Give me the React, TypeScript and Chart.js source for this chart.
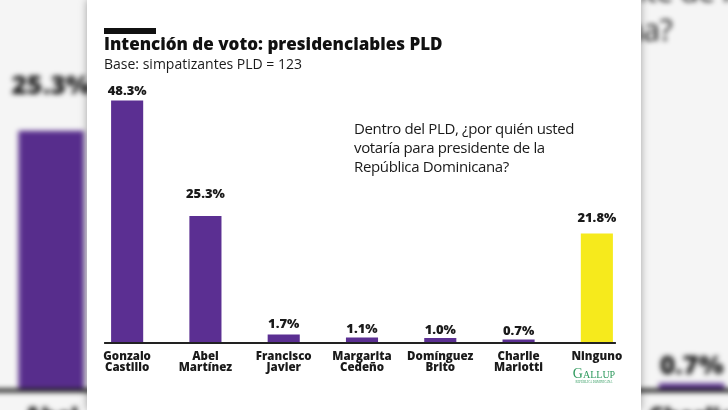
import React, { useEffect, useRef } from "react";
import { Chart, registerables } from "chart.js";

Chart.register(...registerables);

// ---- data ----
const categories: string[][] = [
  ["Gonzalo", "Castillo"],
  ["Abel", "Martínez"],
  ["Francisco", "Javier"],
  ["Margarita", "Cedeño"],
  ["Domínguez", "Brito"],
  ["Charlie", "Mariotti"],
  ["Ninguno"],
];
const values: number[] = [48.3, 25.3, 1.7, 1.1, 1.0, 0.7, 21.8];
const titleText = "Intención de voto: presidenciables PLD";
const subtitleText = "Base: simpatizantes PLD = 123";
const questionLines: string[] = [
  "Dentro del PLD, ¿por quién usted",
  "votaría para presidente de la",
  "República Dominicana?",
];
const yMax = 55;

// ---- styles ----
const PURPLE = "#5b2f92";
const YELLOW = "#f6ea1c";
const barColors: string[] = [PURPLE, PURPLE, PURPLE, PURPLE, PURPLE, PURPLE, YELLOW];
const labelGaps: number[] = [6, 18, 6, 4, 4, 4, 12];
const FONT = "'Open Sans', 'Noto Sans', sans-serif";

const valueLabelPlugin = {
  id: "valueLabels",
  afterDatasetsDraw(chart: any) {
    const ctx = chart.ctx;
    const meta = chart.getDatasetMeta(0);
    ctx.save();
    ctx.fillStyle = "#1a1a1a";
    ctx.font = `800 13px ${FONT}`;
    ctx.textAlign = "center";
    ctx.textBaseline = "alphabetic";
    meta.data.forEach((bar: any, i: number) => {
      ctx.fillText(values[i].toFixed(1) + "%", bar.x, bar.y - labelGaps[i]);
    });
    ctx.restore();
  },
};

const baselinePlugin = {
  id: "baselineRule",
  afterDatasetsDraw(chart: any) {
    const ctx = chart.ctx;
    const meta = chart.getDatasetMeta(0);
    const first = meta.data[0] as any;
    const last = meta.data[meta.data.length - 1] as any;
    const y = chart.chartArea.bottom;
    ctx.save();
    ctx.strokeStyle = "#222";
    ctx.lineWidth = 2;
    ctx.beginPath();
    ctx.moveTo(first.x - first.width / 2 - 7, y);
    ctx.lineTo(last.x + last.width / 2 + 3, y);
    ctx.stroke();
    ctx.restore();
  },
};

function BarChart() {
  const ref = useRef<HTMLCanvasElement | null>(null);
  useEffect(() => {
    if (!ref.current) return;
    const chart = new Chart(ref.current, {
      type: "bar",
      data: {
        labels: categories as any,
        datasets: [
          {
            data: values,
            backgroundColor: barColors,
            barPercentage: 0.41,
            categoryPercentage: 1,
          },
        ],
      },
      options: {
        responsive: false,
        animation: false,
        layout: { padding: { left: 1, right: 5, top: 67, bottom: 0 } },
        plugins: { legend: { display: false }, tooltip: { enabled: false } },
        scales: {
          x: {
            grid: { display: false, drawTicks: false },
            border: { display: false },
            ticks: {
              color: "#1a1a1a",
              font: { family: FONT, size: 11.5, weight: "800", lineHeight: 0.95 },
              padding: 8,
              maxRotation: 0,
              autoSkip: false,
            },
            afterFit: (s: any) => {
              s.height = 67;
            },
          },
          y: { display: false, min: 0, max: yMax },
        },
      } as any,
      plugins: [valueLabelPlugin, baselinePlugin],
    });
    return () => chart.destroy();
  }, []);
  return (
    <canvas
      ref={ref}
      width={554}
      height={410}
      style={{ position: "absolute", left: 0, top: 0, display: "block" }}
    />
  );
}

function Panel({ style }: { style: React.CSSProperties }) {
  return (
    <div
      style={{
        position: "absolute",
        width: 554,
        height: 410,
        background: "#fff",
        overflow: "hidden",
        ...style,
      }}
    >
      <BarChart />
      <div style={{ position: "absolute", left: 17, top: 28, width: 52, height: 6, background: "#111" }} />
      <div
        style={{
          position: "absolute",
          left: 17,
          top: 33,
          font: `800 17px/22px ${FONT}`,
          letterSpacing: "0px",
          color: "#111",
          whiteSpace: "nowrap",
        }}
      >
        {titleText}
      </div>
      <div
        style={{
          position: "absolute",
          left: 17,
          top: 55,
          font: `400 14px/18px ${FONT}`,
          color: "#1a1a1a",
          whiteSpace: "nowrap",
        }}
      >
        {subtitleText}
      </div>
      <div
        style={{
          position: "absolute",
          left: 267,
          top: 119,
          font: `400 15px/19px ${FONT}`,
          letterSpacing: "-0.35px",
          color: "#1a1a1a",
          whiteSpace: "nowrap",
        }}
      >
        {questionLines.map((l, i) => (
          <div key={i}>{l}</div>
        ))}
      </div>
      <div
        style={{
          position: "absolute",
          left: 482,
          top: 367,
          width: 50,
          textAlign: "center",
          color: "#2f9a5e",
          fontFamily: "'Liberation Serif', 'DejaVu Serif', serif",
          whiteSpace: "nowrap",
        }}
      >
        <div style={{ fontSize: 14, lineHeight: "13px", fontVariant: "small-caps" }}>Gallup</div>
        <div style={{ fontSize: 3, lineHeight: "4px" }}>REPÚBLICA DOMINICANA</div>
      </div>
    </div>
  );
}

export default function App() {
  return (
    <div
      style={{
        position: "fixed",
        left: 0,
        top: 0,
        width: 728,
        height: 410,
        overflow: "hidden",
        background: "#efefef",
      }}
    >
      <div style={{ position: "absolute", inset: 0, filter: "blur(2.5px) brightness(0.96)" }}>
        <Panel style={{ left: -191, top: -311, transform: "scale(2.045)", transformOrigin: "0 0" }} />
      </div>
      <Panel style={{ left: 87, top: 0, boxShadow: "0 0 8px rgba(0,0,0,0.35)" }} />
    </div>
  );
}
